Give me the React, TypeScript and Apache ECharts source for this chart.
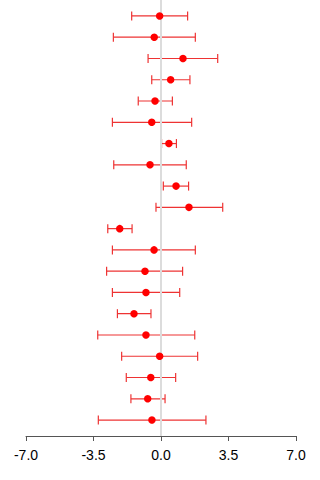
import React, { useEffect, useRef } from "react";
import * as echarts from "echarts";

// Point estimates and interval bounds, top row first
const estimates = [-0.07, -0.35, 1.14, 0.5, -0.31, -0.48, 0.41, -0.57, 0.78, 1.45, -2.14, -0.36, -0.83, -0.78, -1.4, -0.78, -0.07, -0.53, -0.69, -0.47];
const lower = [-1.52, -2.47, -0.67, -0.48, -1.18, -2.52, 0.03, -2.45, 0.12, -0.26, -2.76, -2.52, -2.82, -2.52, -2.26, -3.28, -2.04, -1.8, -1.56, -3.25];
const upper = [1.38, 1.78, 2.94, 1.5, 0.59, 1.59, 0.8, 1.31, 1.43, 3.2, -1.5, 1.78, 1.12, 0.97, -0.52, 1.75, 1.9, 0.76, 0.21, 2.33];
const xTicks = [-7, -3.5, 0, 3.5, 7];

export default function App() {
  const ref = useRef<HTMLDivElement>(null);

  useEffect(() => {
    if (!ref.current) return;
    const chart = echarts.init(ref.current, undefined, { renderer: "svg" });

    const rows = estimates.map((_, i) => i + 1);
    const barData = rows.map((r, i) => [r, lower[i], upper[i]]);
    const pointData = rows.map((r, i) => [estimates[i], r]);

    chart.setOption({
      animation: false,
      grid: { left: 26, right: 24, top: 0, bottom: 44 },
      xAxis: {
        type: "value",
        min: xTicks[0],
        max: xTicks[xTicks.length - 1],
        interval: 3.5,
        axisLine: { show: true, onZero: false, lineStyle: { color: "#555", width: 1 } },
        axisTick: { show: true, length: 5, lineStyle: { color: "#555" } },
        splitLine: { show: false },
        axisLabel: {
          margin: 12,
          fontFamily: "Liberation Sans, Arial, sans-serif",
          fontSize: 14,
          color: "#000",
          formatter: (v: number) => v.toFixed(1),
        },
      },
      yAxis: {
        type: "value",
        min: 0.25,
        max: 20.75,
        inverse: true,
        show: false,
        splitLine: { show: false },
      },
      series: [
        {
          type: "custom",
          silent: true,
          data: barData,
          encode: { x: [1, 2], y: 0 },
          renderItem: (params: any, api: any) => {
            const y = api.value(0);
            const lo = api.coord([api.value(1), y]);
            const hi = api.coord([api.value(2), y]);
            const cap = 4.5;
            const style = { stroke: "#ee3333", lineWidth: 1.2 };
            return {
              type: "group",
              children: [
                { type: "line", shape: { x1: lo[0], y1: lo[1], x2: hi[0], y2: hi[1] }, style },
                { type: "line", shape: { x1: lo[0], y1: lo[1] - cap, x2: lo[0], y2: lo[1] + cap }, style },
                { type: "line", shape: { x1: hi[0], y1: hi[1] - cap, x2: hi[0], y2: hi[1] + cap }, style },
              ],
            };
          },
          z: 1,
        },
        {
          type: "line",
          data: [],
          silent: true,
          z: 2,
          markLine: {
            silent: true,
            z: 2,
            symbol: "none",
            label: { show: false },
            lineStyle: { color: "#dcdcdc", width: 2, type: "solid" },
            data: [{ xAxis: 0 }],
          },
        },
        {
          type: "scatter",
          data: pointData,
          symbol: "circle",
          symbolSize: 7.5,
          itemStyle: { color: "#ff0000", opacity: 1 },
          z: 10,
        },
      ],
    });

    return () => chart.dispose();
  }, []);

  return <div ref={ref} style={{ width: 320, height: 480, position: "absolute", left: 0, top: 0 }} />;
}
